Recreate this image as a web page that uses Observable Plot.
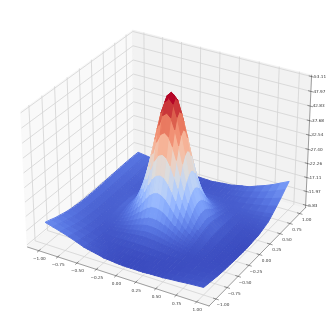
<!DOCTYPE html>
<html>
<head>
<meta charset="utf-8">
<style>html,body{margin:0;padding:0;background:#fff}svg{display:block}</style>
<script src="https://cdn.jsdelivr.net/npm/d3@7"></script>
<script src="https://cdn.jsdelivr.net/npm/@observablehq/plot@0.6"></script>
</head>
<body>
<div id="chart"></div>
<script>
// Surface nodes: finer around the peak, coarser near the rim.
const xNodes=[-1,-0.9,-0.8,-0.7,-0.6,-0.5,-0.45,-0.4,-0.35,-0.3,-0.25,-0.2,-0.15,-0.1,-0.05,0,0.05,0.1,0.15,0.2,0.25,0.3,0.35,0.4,0.45,0.5,0.6,0.7,0.8,0.9,1];
const yNodes=[-1,-0.9,-0.8,-0.7,-0.6,-0.5,-0.45,-0.4,-0.35,-0.3,-0.25,-0.2,-0.15,-0.1,-0.05,0,0.05,0.1,0.15,0.2,0.25,0.3,0.35,0.4,0.45,0.5,0.55,0.6,0.7,0.8,0.9,1];
// Estimated heights, one row per x node, one value per y node.
const zM100=[13.9,13.3,12.6,12.1,11.6,11.2,11.1,11.0,10.9,10.8,10.7,10.7,10.7,10.7,10.7,10.7,10.7,10.8,10.8,10.9,10.9,11.0,11.0,11.1,11.1,11.2,11.2,11.3,11.4,11.4,11.4,11.4];
const zM090=[13.1,12.5,11.8,11.3,10.8,10.4,10.3,10.2,10.1,10.1,10.0,10.0,10.0,10.0,10.0,10.0,10.0,10.0,10.1,10.1,10.2,10.2,10.3,10.4,10.4,10.4,10.5,10.6,10.7,10.8,10.9,11.0];
const zM080=[12.3,11.7,11.0,10.4,10.0,9.7,9.6,9.5,9.5,9.4,9.3,9.3,9.3,9.4,9.3,9.4,9.4,9.4,9.4,9.5,9.5,9.6,9.6,9.6,9.7,9.7,9.8,9.9,10.1,10.2,10.4,10.6];
const zM070=[11.4,10.8,10.2,9.7,9.4,9.1,9.0,9.1,9.0,9.0,8.9,9.0,9.0,9.1,9.1,9.1,9.1,9.2,9.2,9.2,9.2,9.2,9.2,9.2,9.2,9.3,9.3,9.4,9.6,9.7,9.9,10.1];
const zM060=[10.4,9.8,9.4,9.0,8.8,8.6,8.7,8.7,8.7,8.8,9.0,9.1,9.2,9.4,9.5,9.6,9.6,9.6,9.6,9.5,9.4,9.3,9.2,9.1,9.0,9.0,9.0,9.0,9.1,9.3,9.5,9.7];
const zM050=[9.3,8.9,8.6,8.3,8.2,8.2,8.4,8.6,8.9,9.1,9.3,9.7,10.1,10.4,10.7,10.9,10.9,10.9,10.7,10.5,10.2,9.9,9.6,9.4,9.2,8.9,8.8,8.7,8.7,8.8,9.1,9.3];
const zM045=[9.0,8.6,8.3,8.1,8.1,8.3,8.6,8.8,9.2,9.5,9.9,10.5,11.1,11.6,12.0,12.3,12.4,12.3,12.0,11.7,11.2,10.7,10.2,9.8,9.5,9.1,9.0,8.8,8.7,8.8,9.0,9.2];
const zM040=[8.7,8.4,8.1,8.0,8.1,8.4,8.8,9.1,9.6,10.1,10.9,11.7,12.5,13.3,14.0,14.5,14.6,14.6,14.1,13.4,12.6,11.8,11.1,10.4,9.9,9.4,9.2,8.9,8.6,8.7,8.8,9.1];
const zM035=[8.4,8.2,7.9,7.9,8.0,8.5,8.9,9.4,10.1,10.9,11.9,13.1,14.5,15.8,16.9,17.6,17.9,17.6,16.9,15.9,14.6,13.3,12.1,11.2,10.4,9.7,9.4,9.0,8.6,8.6,8.7,9.0];
const zM030=[8.1,7.9,7.8,7.8,8.1,8.7,9.1,9.8,10.8,11.8,13.3,15.1,17.0,19.0,20.7,21.8,22.3,21.8,20.8,19.1,17.1,15.3,13.5,12.1,11.1,10.1,9.5,9.2,8.7,8.5,8.6,8.8];
const zM025=[7.7,7.7,7.6,7.7,8.1,8.8,9.4,10.3,11.5,13.0,15.0,17.4,20.2,23.0,25.5,27.2,27.9,27.3,25.6,23.1,20.3,17.6,15.3,13.2,11.8,10.6,9.8,9.3,8.6,8.4,8.5,8.6];
const zM020=[7.6,7.6,7.5,7.7,8.1,9.0,9.8,10.9,12.2,14.3,16.9,20.2,24.0,27.8,31.2,33.6,34.4,33.7,31.3,27.9,24.1,20.4,17.1,14.6,12.5,11.2,10.2,9.5,8.7,8.4,8.4,8.6];
const zM015=[7.5,7.4,7.4,7.6,8.1,9.2,10.0,11.3,13.1,15.6,18.9,23.0,27.8,32.8,37.2,40.2,41.3,40.2,37.3,32.9,27.9,23.1,19.1,15.9,13.4,11.7,10.5,9.7,8.8,8.4,8.4,8.6];
const zM010=[7.3,7.3,7.3,7.7,8.2,9.3,10.3,11.7,13.8,16.7,20.6,25.5,31.2,37.2,42.4,46.1,47.4,46.1,42.4,37.2,31.3,25.6,20.8,16.9,14.1,12.0,10.7,9.8,8.8,8.5,8.3,8.5];
const zM005=[7.2,7.2,7.3,7.6,8.1,9.4,10.5,12.0,14.3,17.4,21.7,27.2,33.6,40.2,46.1,50.2,51.7,50.2,46.1,40.2,33.7,27.3,21.8,17.6,14.5,12.3,10.9,9.9,8.8,8.4,8.3,8.5];
const zP000=[7.1,7.1,7.2,7.5,8.2,9.4,10.5,12.0,14.3,17.6,22.1,27.7,34.3,41.2,47.3,51.6,53.1,51.7,47.4,41.3,34.4,27.9,22.3,17.9,14.6,12.3,10.9,9.9,8.8,8.4,8.3,8.4];
const zP005=[7.1,7.1,7.2,7.5,8.1,9.3,10.4,11.9,14.2,17.3,21.6,27.1,33.5,40.1,46.0,50.1,51.6,50.2,46.1,40.2,33.6,27.3,21.8,17.6,14.5,12.3,10.9,9.9,8.8,8.4,8.4,8.6];
const zP010=[7.1,7.1,7.2,7.5,8.1,9.2,10.2,11.6,13.7,16.6,20.5,25.4,31.1,37.1,42.3,46.0,47.3,46.1,42.4,37.2,31.2,25.6,20.7,16.9,14.1,12.0,10.7,9.8,8.9,8.5,8.5,8.7];
const zP015=[7.1,7.1,7.2,7.4,8.0,9.0,9.9,11.2,13.0,15.5,18.8,22.9,27.7,32.7,37.1,40.1,41.3,40.2,37.2,32.8,27.8,23.1,19.1,15.8,13.4,11.7,10.5,9.7,8.8,8.5,8.6,8.9];
const zP020=[7.1,7.1,7.2,7.4,7.9,8.8,9.6,10.7,12.1,14.2,16.8,20.1,23.9,27.7,31.1,33.5,34.4,33.6,31.2,27.8,24.0,20.3,17.1,14.6,12.5,11.1,10.2,9.5,8.8,8.6,8.7,9.0];
const zP025=[7.1,7.2,7.2,7.3,7.8,8.6,9.2,10.1,11.3,12.8,14.9,17.3,20.1,22.9,25.4,27.1,27.8,27.2,25.5,23.0,20.2,17.5,15.2,13.2,11.8,10.6,9.9,9.4,8.7,8.6,8.8,9.1];
const zP030=[7.2,7.2,7.2,7.3,7.7,8.4,8.8,9.5,10.5,11.6,13.1,14.9,16.8,18.8,20.6,21.7,22.2,21.7,20.6,18.9,17.0,15.2,13.5,12.0,11.0,10.1,9.6,9.2,8.8,8.8,9.0,9.4];
const zP035=[7.3,7.2,7.1,7.3,7.5,8.1,8.6,9.1,9.7,10.6,11.6,12.8,14.2,15.5,16.7,17.4,17.7,17.4,16.7,15.7,14.4,13.1,12.0,11.1,10.3,9.7,9.4,9.0,8.7,8.9,9.2,9.7];
const zP040=[7.3,7.2,7.2,7.2,7.4,7.9,8.3,8.7,9.2,9.7,10.5,11.3,12.2,13.1,13.8,14.3,14.4,14.4,13.9,13.2,12.4,11.7,11.0,10.3,9.8,9.4,9.2,8.9,8.8,9.0,9.5,10.0];
const zP045=[7.4,7.2,7.2,7.2,7.4,7.7,8.0,8.3,8.7,9.0,9.5,10.1,10.8,11.3,11.7,12.0,12.1,12.1,11.8,11.4,11.0,10.5,10.0,9.6,9.3,9.0,9.0,8.9,8.9,9.2,9.7,10.2];
const zP050=[7.4,7.3,7.2,7.2,7.3,7.5,7.7,8.0,8.3,8.6,8.8,9.2,9.7,10.0,10.3,10.5,10.7,10.6,10.4,10.2,9.9,9.7,9.4,9.2,9.0,8.8,8.8,8.8,8.9,9.3,10.0,10.5];
const zP060=[7.7,7.5,7.3,7.3,7.3,7.4,7.5,7.6,7.7,7.8,8.0,8.2,8.3,8.6,8.7,8.8,8.8,8.9,8.8,8.8,8.6,8.7,8.6,8.6,8.5,8.6,8.8,8.9,9.3,10.0,10.8,11.6];
const zP070=[7.9,7.7,7.5,7.4,7.3,7.3,7.4,7.5,7.5,7.5,7.5,7.6,7.7,7.8,7.8,7.9,7.9,8.0,8.0,8.0,8.0,8.1,8.2,8.3,8.5,8.6,8.9,9.2,9.8,10.6,11.6,12.6];
const zP080=[8.2,7.9,7.6,7.4,7.4,7.3,7.3,7.3,7.3,7.3,7.3,7.4,7.4,7.4,7.4,7.5,7.5,7.6,7.6,7.7,7.7,7.9,8.1,8.2,8.5,8.6,9.0,9.5,10.3,11.4,12.6,13.8];
const zP090=[8.4,8.1,7.8,7.6,7.4,7.3,7.2,7.2,7.2,7.2,7.2,7.2,7.2,7.2,7.2,7.2,7.3,7.4,7.5,7.5,7.6,7.8,8.1,8.3,8.5,8.8,9.3,9.9,11.0,12.3,13.8,15.2];
const zP100=[8.6,8.3,8.0,7.7,7.5,7.3,7.3,7.3,7.2,7.2,7.1,7.1,7.1,7.1,7.1,7.1,7.2,7.3,7.4,7.5,7.5,7.8,8.1,8.4,8.7,9.0,9.7,10.4,11.8,13.3,15.0,16.6];
const zRows=[zM100,zM090,zM080,zM070,zM060,zM050,zM045,zM040,zM035,zM030,zM025,zM020,zM015,zM010,zM005,zP000,zP005,zP010,zP015,zP020,zP025,zP030,zP035,zP040,zP045,zP050,zP060,zP070,zP080,zP090,zP100];

const xTicks=[-1,-0.75,-0.5,-0.25,0,0.25,0.5,0.75,1];
const yTicks=[-1,-0.75,-0.5,-0.25,0,0.25,0.5,0.75,1];
const xyLabels=["−1.00","−0.75","−0.50","−0.25","0.00","0.25","0.50","0.75","1.00"];
const zTicks=[6.83,11.97,17.11,22.26,27.40,32.54,37.68,42.83,47.97,53.11];
const zLabels=["6.83","11.97","17.11","22.26","27.40","32.54","37.68","42.83","47.97","53.11"];
const coolwarm=["#3b4cc0","#5977e3","#7b9ff9","#9ebeff","#c0d4f5","#dddcdc","#f2cbb7","#f7ac8e","#ee8468","#d65244","#b40426"];

// matplotlib's 3D camera: elevation 30, azimuth -60, distance 10
const xyLim=1.15, zLim=[5.9,53.6], hx=0.5952, hz=0.4464, dist=10;
function project(x,y,z){
  const qx=x/xyLim*hx, qy=y/xyLim*hx, qz=((z-zLim[0])/(zLim[1]-zLim[0])-0.5)*2*hz;
  const a=0.866*qx+0.5*qy, b=-0.25*qx+0.433*qy+0.866*qz, c=0.433*qx-0.75*qy+0.5*qz;
  const d=dist-c;
  return {X:a/d,Y:b/d,d};
}
const seg=(id,pts)=>pts.map(p=>({id,...project(...p)}));

const cells=[];
for(let i=0;i<xNodes.length-1;i++)for(let j=0;j<yNodes.length-1;j++){
  const c=[[i,j],[i+1,j],[i+1,j+1],[i,j+1]];
  const pts=c.map(([a,b])=>project(xNodes[a],yNodes[b],zRows[a][b]));
  cells.push({id:i*100+j,value:d3.mean(c,([a,b])=>zRows[a][b]),pts,depth:d3.mean(pts,p=>p.d)});
}
cells.sort((p,q)=>q.depth-p.depth);
const surface=cells.flatMap(c=>c.pts.map(p=>({id:c.id,value:c.value,X:p.X,Y:p.Y})));
const [vMin,vMax]=d3.extent(cells,c=>c.value);

const L=xyLim,[z0,z1]=zLim;
const paneLeft=seg("l",[[-L,-L,z0],[-L,L,z0],[-L,L,z1],[-L,-L,z1]]);
const paneBack=seg("b",[[-L,L,z0],[L,L,z0],[L,L,z1],[-L,L,z1]]);
const paneFloor=seg("f",[[-L,-L,z0],[L,-L,z0],[L,L,z0],[-L,L,z0]]);
const gridLines=[
  ...xTicks.flatMap(t=>seg("x"+t,[[t,-L,z0],[t,L,z0],[t,L,z1]])),
  ...yTicks.flatMap(t=>seg("y"+t,[[L,t,z0],[-L,t,z0],[-L,t,z1]])),
  ...zTicks.flatMap(t=>seg("z"+t,[[-L,-L,t],[-L,L,t],[L,L,t]]))
];
const axisLines=[
  ...seg("ax",[[-L,-L,z0],[L,-L,z0]]),
  ...seg("ay",[[L,-L,z0],[L,L,z0]]),
  ...seg("az",[[L,L,z0],[L,L,z1]])
];
const tk=0.03;
const tickLines=[
  ...xTicks.flatMap(t=>seg("tx"+t,[[t,-L+tk,z0],[t,-L-tk,z0]])),
  ...yTicks.flatMap(t=>seg("ty"+t,[[L-tk,t,z0],[L+tk,t,z0]])),
  ...zTicks.flatMap(t=>seg("tz"+t,[[L-tk,L,t],[L+tk,L,t]]))
];
const xText=xTicks.map((t,i)=>({label:xyLabels[i],...project(t,-L,z0)}));
const yText=yTicks.map((t,i)=>({label:xyLabels[i],...project(L,t,z0)}));
const zText=zTicks.map((t,i)=>({label:zLabels[i],...project(L,L,t)}));

const closed={x:"X",y:"Y",z:"id",curve:"linear-closed"};
const open={x:"X",y:"Y",z:"id"};
const textStyle={x:"X",y:"Y",text:"label",fontSize:4.2,fontFamily:"DejaVu Sans",fill:"#3a3a3a"};

const chart=Plot.plot({
  width:329,height:329,margin:0,
  style:{background:"#fff"},
  x:{axis:null,domain:[-168.6/1747,160.4/1747],range:[0,329]},
  y:{axis:null,domain:[(160.9-329)/1735,160.9/1735],range:[329,0]},
  color:{type:"linear",domain:d3.range(11).map(i=>vMin+i/10*(vMax-vMin)),range:coolwarm,interpolate:"rgb"},
  marks:[
    Plot.line(paneLeft,{...closed,fill:"#f9f9f9",stroke:"#f5f5f5",strokeWidth:0.6}),
    Plot.line(paneBack,{...closed,fill:"#f2f2f2",stroke:"#eeeeee",strokeWidth:0.6}),
    Plot.line(paneFloor,{...closed,fill:"#f5f5f5",stroke:"#f0f0f0",strokeWidth:0.6}),
    Plot.line(gridLines,{...open,stroke:"#d3d3d3",strokeWidth:0.8}),
    Plot.line(axisLines,{...open,stroke:"#555",strokeWidth:0.55}),
    Plot.line(tickLines,{...open,stroke:"#444",strokeWidth:0.55}),
    Plot.line(surface,{...closed,fill:"value",stroke:"value",strokeWidth:1,strokeLinejoin:"round"}),
    Plot.text(xText,{...textStyle,dx:0.5,dy:8}),
    Plot.text(yText,{...textStyle,dx:7,dy:6}),
    Plot.text(zText,{...textStyle,textAnchor:"start",dx:2.5})
  ]
});
chart.style.filter="blur(0.4px)";
document.getElementById("chart").appendChild(chart);
</script>
</body>
</html>
